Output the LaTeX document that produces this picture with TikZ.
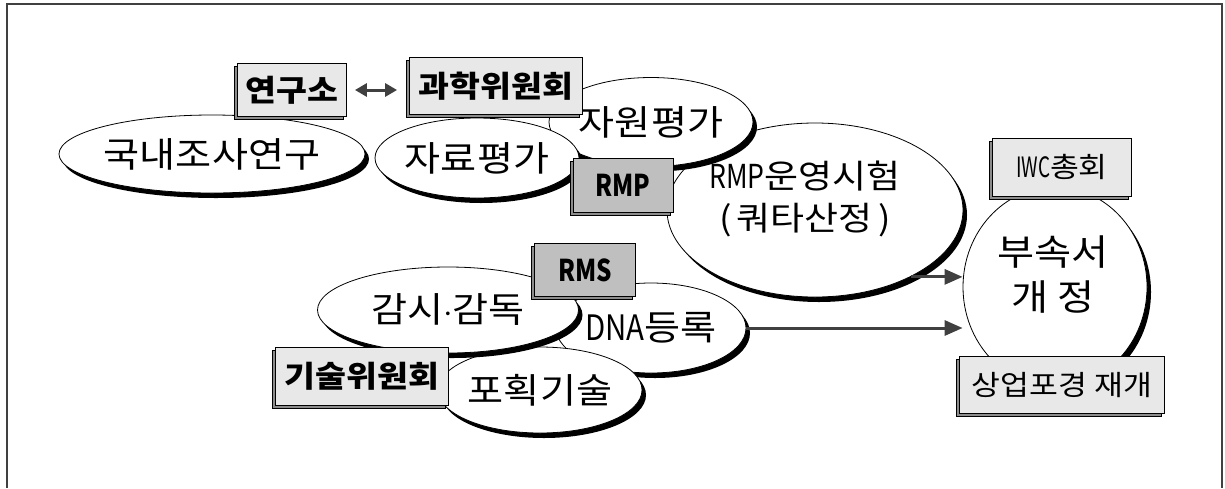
\documentclass[tikz,border=0pt]{standalone}
\usepackage{fontspec}
\setmainfont{Noto Sans CJK KR}[FakeStretch=1.12]
\usepackage{graphicx}
\usetikzlibrary{shapes.geometric,shadows,arrows.meta,calc}

\begin{document}
\begin{tikzpicture}[x=0.5pt,y=-0.5pt,
	oval/.style={ellipse, draw, thin, fill=white, inner sep=0pt,
		drop shadow={shadow xshift=2pt, shadow yshift=-2.5pt, opacity=1, fill=black},
		font=\fontsize{17.5}{19}\selectfont},
	board/.style={rectangle, draw, thin, fill=black!9, inner sep=0pt,
		drop shadow={shadow xshift=-1.5pt, shadow yshift=-1.5pt, opacity=1, fill=black!45, draw=black},
		font=\fontsize{15}{17}\selectfont\bfseries},
	darkboard/.style={board, fill=black!25},
	plainboard/.style={board, font=\fontsize{14}{16}\selectfont},
	arr/.style={draw=black!75, line width=1.5pt, -{Triangle[length=9pt,width=7.5pt]}}]
	\useasboundingbox (0,0) rectangle (1225,488);
	\draw[black!75, line width=1pt] (7,488) -- (7,4) -- (1222,4) -- (1222,488);
	
	% research side
	\node[oval, minimum width=146pt, minimum height=39pt] (domestic) at (212,154) {국내조사연구};
	\node[board, minimum width=54.5pt, minimum height=26.5pt] (inst) at (292,90) {연구소};
	
	% scientific committee side
	\node[oval, minimum width=148pt, minimum height=87pt] (quota) at (815,210) {};
	\node[align=center, font=\fontsize{16.5}{21}\selectfont] (quotatxt) at (805,199) {\scalebox{0.72}[1]{RMP}운영시험\\(\,쿼타산정\,)};
	\node[oval, minimum width=98pt, minimum height=44.5pt] (stockrev) at (651,122) {자원평가};
	\node[oval, minimum width=102pt, minimum height=40pt] (datarev) at (477,158) {자료평가};
	\node[board, minimum width=86.5pt, minimum height=28.5pt] (scicom) at (496,86) {과학위원회};
	\node[darkboard, minimum width=50pt, minimum height=27pt] (rmp) at (623,185) {\scalebox{0.72}[1]{RMP}};
	
	% technical committee side
	\node[oval, minimum width=95pt, minimum height=45pt] (dna) at (651,328) {\scalebox{0.75}[1]{DNA}등록};
	\node[oval, minimum width=99.5pt, minimum height=43pt] (catch) at (540,390) {포획기술};
	\node[oval, minimum width=130.5pt, minimum height=43pt] (monitor) at (448,310) {감시$\cdot$감독};
	\node[darkboard, minimum width=50.5pt, minimum height=26.5pt] (rms) at (585,270) {\scalebox{0.72}[1]{RMS}};
	\node[board, minimum width=86.5pt, minimum height=29pt] (techcom) at (362,376) {기술위원회};
	
	% plenary
	\node[oval, minimum width=92pt, minimum height=100pt] (annex) at (1055,287) {};
	\node[align=center, font=\fontsize{18}{22.5}\selectfont] (annextxt) at (1053,275) {부속서\\개\ 정};
	\node[plainboard, minimum width=69.5pt, minimum height=29pt] (iwc) at (1062,167) {\scalebox{0.6}[1]{IWC}총회};
	\node[plainboard, minimum width=102.5pt, minimum height=28.5pt] (resume) at (1062,385) {상업포경 재개};
	
	\draw[draw=black!75, line width=1.5pt, {Triangle[length=6pt,width=6.5pt]}-{Triangle[length=6pt,width=6.5pt]},
		shorten <=4pt, shorten >=6pt] (inst.east) -- (inst.east -| scicom.west);
	\draw[arr] (quota.-35) -- (quota.-35 -| annex.west);
	\draw[arr] (dna.east) -- (dna.east -| annex.west);
\end{tikzpicture}
\end{document}
